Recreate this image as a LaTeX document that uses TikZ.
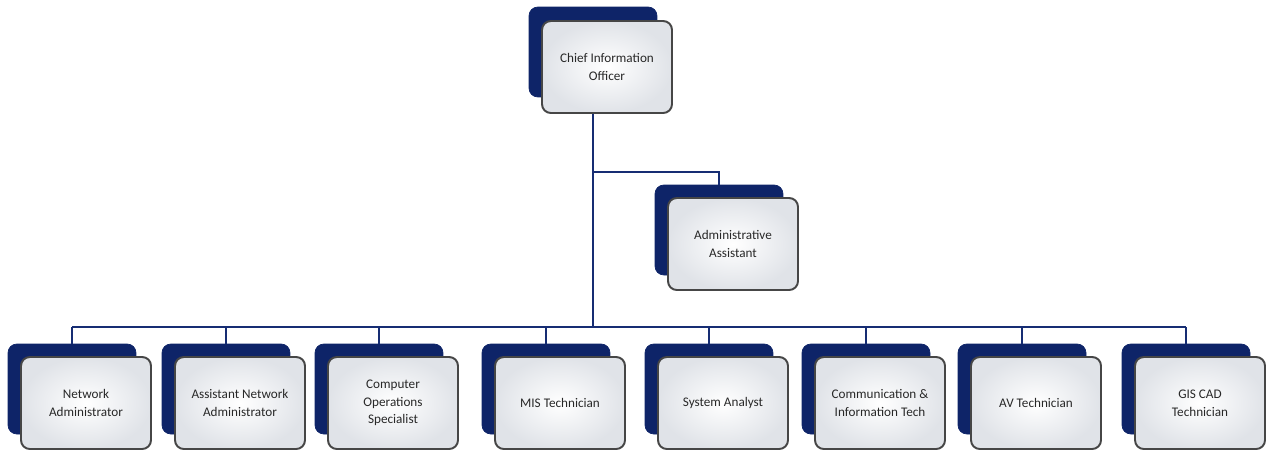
\documentclass[tikz,border=0pt]{standalone}
\usepackage{fontspec}
\setmainfont{Carlito}
\begin{document}
\begin{tikzpicture}[x=0.02cm,y=-0.02cm,
    backbox/.style={draw=boxnavy,fill=boxnavy,rounded corners=5pt,
      minimum width=2.56cm,minimum height=1.8cm},
    frontbox/.style={draw=boxrim,line width=1.1pt,rounded corners=5pt,
      inner color=white,outer color=boxgray,
      minimum width=2.6cm,minimum height=1.84cm,align=center,
      font=\fontsize{7.5}{10}\selectfont,text=boxtext},
    link/.style={draw=linknavy,line width=1.6pt}]
    \definecolor{boxnavy}{RGB}{14, 36, 104}
    \definecolor{linknavy}{RGB}{22, 45, 115}
    \definecolor{boxrim}{RGB}{70, 70, 70}
    \definecolor{boxgray}{RGB}{224, 227, 232}
    \definecolor{boxtext}{RGB}{40, 40, 40}

    \useasboundingbox (0,0) rectangle (1267,451);

    % top of the chart
    \node[backbox] (cio-b) at (593,52) {};
    \node[frontbox] (cio) at (607,67) {Chief Information\\Officer};

    \node[backbox] (aa-b) at (719,230) {};
    \node[frontbox] (aa) at (733,244) {Administrative\\Assistant};

    % staff row
    \foreach \x/\nm/\txt in {72/na/{Network\\Administrator},
        226/ana/{Assistant Network\\Administrator},
        379/cos/{Computer\\Operations\\Specialist},
        546/mis/{MIS Technician},
        709/sa/{System Analyst},
        866/cit/{Communication \&\\Information Tech},
        1022/av/{AV Technician},
        1186/gis/{GIS CAD\\Technician}}{
      \node[backbox] (\nm-b) at (\x,389) {};
      \node[frontbox] (\nm) at (\x+14,403) {\txt};
    }

    \coordinate (bus) at (593,327);
    \coordinate (aa-j) at (593,172);

    \draw[link] (cio.south -| cio-b) -- (bus);
    \draw[link,line width=1.2pt] (aa-j) -| (aa-b.north);
    \draw[link] (na-b |- bus) -- (gis-b |- bus);
    \foreach \nm in {na,ana,cos,mis,sa,cit,av,gis}
      \draw[link] (\nm-b |- bus) -- (\nm-b.north);
\end{tikzpicture}
\end{document}
